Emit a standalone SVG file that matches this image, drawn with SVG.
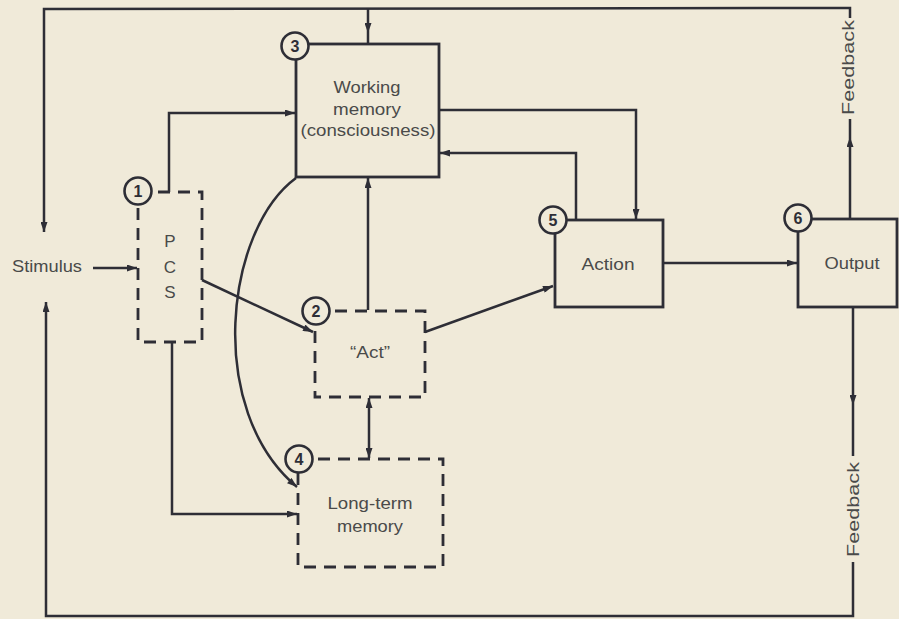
<svg xmlns="http://www.w3.org/2000/svg" width="899" height="619" viewBox="0 0 899 619">
<style>
.ln{fill:none;stroke:#2e2e36;stroke-width:2.5;stroke-linejoin:miter}
.box{fill:none;stroke:#2e2e36;stroke-width:2.8}
.dbox{fill:none;stroke:#2e2e36;stroke-width:2.8;stroke-dasharray:12 8}
.t{font-family:"Liberation Sans",Arial,sans-serif;font-size:17px;fill:#4a4a4a;text-anchor:middle}
.num{font-family:"Liberation Sans",Arial,sans-serif;font-size:16px;font-weight:bold;fill:#2e2e36;text-anchor:middle}
.circ{fill:#f0ead9;stroke:#2e2e36;stroke-width:2.6}
</style>
<defs>
<marker id="ah" viewBox="0 0 10 7" markerUnits="userSpaceOnUse" markerWidth="11" markerHeight="7" refX="10" refY="3.5" orient="auto">
<path d="M0,0 L10,3.5 L0,7 z" fill="#2e2e36"/>
</marker>
<marker id="ahs" viewBox="0 0 10 7" markerUnits="userSpaceOnUse" markerWidth="11" markerHeight="7" refX="0" refY="3.5" orient="auto">
<path d="M10,0 L0,3.5 L10,7 z" fill="#2e2e36"/>
</marker>
</defs>
<rect width="899" height="619" fill="#f0ead9"/>

<g id="connectors">
<!-- top feedback loop -->
<path class="ln" d="M850 18 L850 8 L44 9 L44 232" marker-end="url(#ah)"/>
<path class="ln" d="M368 8.5 L368 33 L368 43" marker-mid="url(#ah)"/>
<path class="ln" d="M850 219 L850 137 L850 119" marker-mid="url(#ah)"/>
<!-- bottom feedback loop -->
<path class="ln" d="M853 306 L853 405 L853 456" marker-mid="url(#ah)"/>
<path class="ln" d="M853 562 L853 616 L46 616 L46 302" marker-end="url(#ah)"/>
<!-- stimulus -->
<path class="ln" d="M93 268 L137 268" marker-end="url(#ah)"/>
<!-- PCS to WM -->
<path class="ln" d="M169 192 L169 113 L295 113" marker-end="url(#ah)"/>
<!-- PCS to Act -->
<path class="ln" d="M202 280 L313 332" marker-end="url(#ah)"/>
<!-- Act to WM -->
<path class="ln" d="M368 310 L368 178" marker-end="url(#ah)"/>
<!-- Act to Action -->
<path class="ln" d="M425 332 L553 286" marker-end="url(#ah)"/>
<!-- WM to Action -->
<path class="ln" d="M439 110 L636 110 L636 219" marker-end="url(#ah)"/>
<!-- Action to WM -->
<path class="ln" d="M576 220 L576 153 L440 153" marker-end="url(#ah)"/>
<!-- Action to Output -->
<path class="ln" d="M663 263 L797 263" marker-end="url(#ah)"/>
<!-- Act <-> LTM -->
<path class="ln" d="M369 398 L369 458" marker-start="url(#ahs)" marker-end="url(#ah)"/>
<!-- PCS to LTM -->
<path class="ln" d="M172 342 L172 514 L297 514" marker-end="url(#ah)"/>
<!-- WM to LTM curve -->
<path class="ln" d="M296 178 C225 230 205 410 297 487" marker-end="url(#ah)"/>
<!-- feedback labels -->
<text class="t" transform="translate(854 67.5) rotate(-90)" textLength="95" lengthAdjust="spacingAndGlyphs">Feedback</text>
<text class="t" transform="translate(859 509.5) rotate(-90)" textLength="95" lengthAdjust="spacingAndGlyphs">Feedback</text>
</g>

<g id="stimulus">
<text class="t" x="47" y="272" textLength="70" lengthAdjust="spacingAndGlyphs">Stimulus</text>
</g>

<g id="node1">
<rect class="dbox" x="138" y="192" width="64" height="150"/>
<text class="t" x="170" y="247">P</text>
<text class="t" x="170" y="273">C</text>
<text class="t" x="170" y="298">S</text>
<circle class="circ" cx="138" cy="191" r="13.5"/>
<text class="num" x="138" y="197">1</text>
</g>

<g id="node3">
<rect class="box" x="296" y="44" width="143" height="133"/>
<text class="t" x="367" y="93" textLength="67" lengthAdjust="spacingAndGlyphs">Working</text>
<text class="t" x="367" y="115" textLength="68" lengthAdjust="spacingAndGlyphs">memory</text>
<text class="t" x="368" y="136" textLength="135" lengthAdjust="spacingAndGlyphs">(consciousness)</text>
<circle class="circ" cx="295" cy="46" r="13.5"/>
<text class="num" x="295" y="52">3</text>
</g>

<g id="node2">
<rect class="dbox" x="315" y="311" width="110" height="86"/>
<text class="t" x="370" y="358" textLength="40" lengthAdjust="spacingAndGlyphs">“Act”</text>
<circle class="circ" cx="316" cy="311" r="13.5"/>
<text class="num" x="316" y="317">2</text>
</g>

<g id="node4">
<rect class="dbox" x="298" y="459" width="145" height="108"/>
<text class="t" x="370" y="509" textLength="85" lengthAdjust="spacingAndGlyphs">Long-term</text>
<text class="t" x="370" y="532" textLength="66" lengthAdjust="spacingAndGlyphs">memory</text>
<circle class="circ" cx="299" cy="459" r="13.5"/>
<text class="num" x="299" y="465">4</text>
</g>

<g id="node5">
<rect class="box" x="555" y="220" width="108" height="87"/>
<text class="t" x="608" y="270" textLength="53" lengthAdjust="spacingAndGlyphs">Action</text>
<circle class="circ" cx="553" cy="220" r="13.5"/>
<text class="num" x="553" y="226">5</text>
</g>

<g id="node6">
<rect class="box" x="798" y="219" width="99" height="88"/>
<text class="t" x="852" y="269" textLength="55" lengthAdjust="spacingAndGlyphs">Output</text>
<circle class="circ" cx="798" cy="218" r="13.5"/>
<text class="num" x="798" y="224">6</text>
</g>
</svg>
